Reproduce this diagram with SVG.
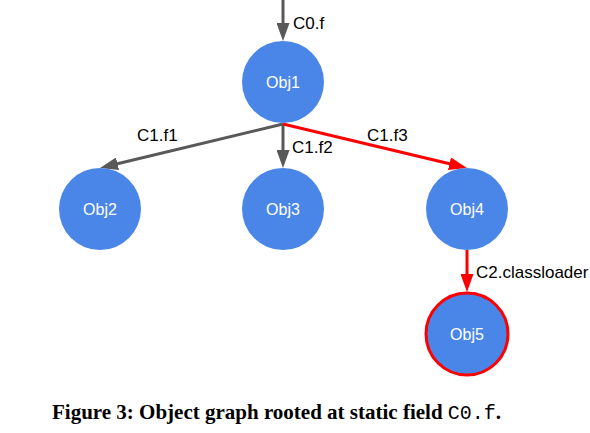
<svg xmlns="http://www.w3.org/2000/svg" width="590" height="433" viewBox="0 0 590 433">
<style>
.node{fill:#4a86e8}
.nt{font-family:"Liberation Sans",Arial,sans-serif;font-size:16px;fill:#ffffff;text-anchor:middle}
.lb{font-family:"Liberation Sans",Arial,sans-serif;font-size:17px;fill:#000000}
.eg{stroke:#595959;stroke-width:3;fill:none}
.er{stroke:#ff0000;stroke-width:3;fill:none}
</style>
<defs>
<marker id="ag" markerUnits="userSpaceOnUse" markerWidth="18" markerHeight="13" refX="13" refY="6.5" orient="auto"><path d="M0,0 L18,6.5 L0,13 z" fill="#595959"/></marker>
<marker id="ar" markerUnits="userSpaceOnUse" markerWidth="18" markerHeight="13" refX="13" refY="6.5" orient="auto"><path d="M0,0 L18,6.5 L0,13 z" fill="#ff0000"/></marker>
</defs>
<rect width="590" height="433" fill="#ffffff"/>
<g id="connectors">
<line class="eg" x1="283" y1="0" x2="283" y2="36" marker-end="url(#ag)"/>
<line class="eg" x1="283" y1="124" x2="104.9" y2="166.8" marker-end="url(#ag)"/>
<line class="eg" x1="283" y1="124" x2="283" y2="163" marker-end="url(#ag)"/>
<line class="er" x1="283" y1="124" x2="462.1" y2="166.8" marker-end="url(#ar)"/>
<line class="er" x1="467" y1="250" x2="467" y2="287" marker-end="url(#ar)"/>
<text class="lb" x="293" y="29">C0.f</text>
<text class="lb" x="137" y="141">C1.f1</text>
<text class="lb" x="292" y="153">C1.f2</text>
<text class="lb" x="367" y="141">C1.f3</text>
<text class="lb" x="476" y="278">C2.classloader</text>
</g>
<g id="obj1"><circle class="node" cx="283" cy="82" r="41"/><text class="nt" x="283" y="88">Obj1</text></g>
<g id="obj2"><circle class="node" cx="100" cy="209" r="41"/><text class="nt" x="100" y="215">Obj2</text></g>
<g id="obj3"><circle class="node" cx="283" cy="209" r="41"/><text class="nt" x="283" y="215">Obj3</text></g>
<g id="obj4"><circle class="node" cx="467" cy="209" r="41"/><text class="nt" x="467" y="215">Obj4</text></g>
<g id="obj5"><circle class="node" cx="467" cy="334" r="41" stroke="#ff0000" stroke-width="3"/><text class="nt" x="467" y="340">Obj5</text></g>
<text x="52" y="419" font-family="'Liberation Serif','Times New Roman',serif" font-weight="bold" font-size="21" fill="#000000">Figure 3: Object graph rooted at static field <tspan font-family="'Liberation Mono','DejaVu Sans Mono',monospace" font-weight="normal" font-size="20">C0.f</tspan>.</text>
</svg>
